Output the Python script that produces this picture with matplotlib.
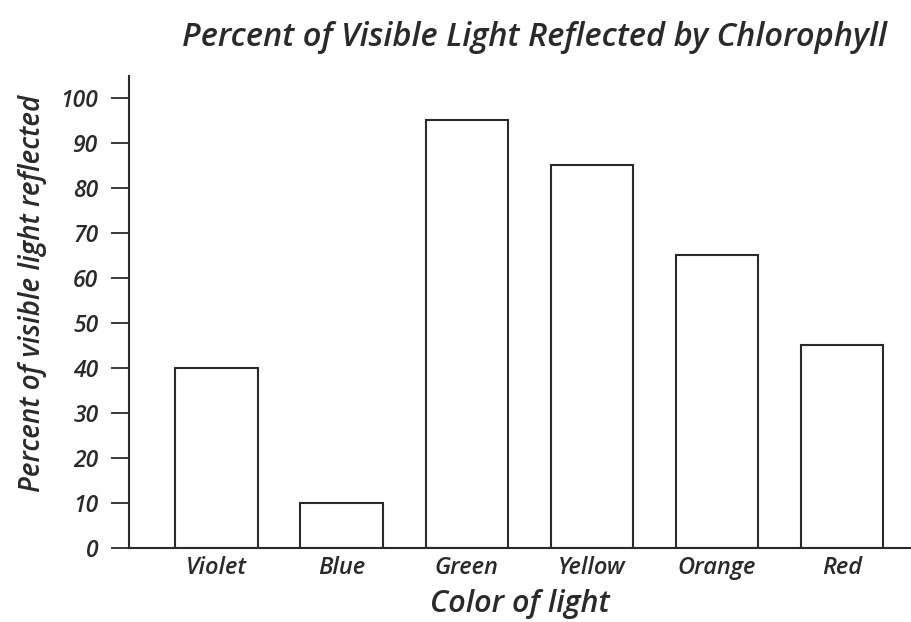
import matplotlib.pyplot as plt

# data
colors = ["Violet", "Blue", "Green", "Yellow", "Orange", "Red"]
percent_reflected = [40, 10, 95, 85, 65, 45]
y_ticks = [0, 10, 20, 30, 40, 50, 60, 70, 80, 90, 100]

ink = "#2a2a2a"
plt.rcParams["font.family"] = ["Open Sans", "DejaVu Sans"]
txt = dict(style="italic", weight="semibold", color=ink)

fig = plt.figure(figsize=(9.11, 6.22), dpi=100)
ax = fig.add_axes([0.1416, 0.119, 0.8584, 0.759])

x = range(len(colors))
ax.bar(x, percent_reflected, width=0.66, facecolor="white", edgecolor=ink, linewidth=1.5)

ax.set_xlim(-0.7, 5.55)
ax.set_ylim(0, 104.9)
ax.set_yticks(y_ticks)
ax.set_yticklabels([str(v) for v in y_ticks], fontsize=16.5, **txt)
ax.set_xticks(list(x))
ax.set_xticklabels(colors, fontsize=17, **txt)

ax.tick_params(axis="y", length=13, width=1.3, color=ink, pad=9)
ax.tick_params(axis="x", length=0, pad=6)

for side in ["top", "right"]:
    ax.spines[side].set_visible(False)
for side in ["left", "bottom"]:
    ax.spines[side].set_linewidth(1.5)
    ax.spines[side].set_color(ink)

ax.set_xlabel("Color of light", fontsize=22, labelpad=6, **txt)
ax.set_ylabel("Percent of visible light reflected", fontsize=20, labelpad=10, **txt)
ax.yaxis.label.set_y(0.54)
fig.text(0.587, 0.94, "Percent of Visible Light Reflected by Chlorophyll", fontsize=23.5,
         ha="center", va="center", **txt)

fig.savefig("out.png", dpi=100)
